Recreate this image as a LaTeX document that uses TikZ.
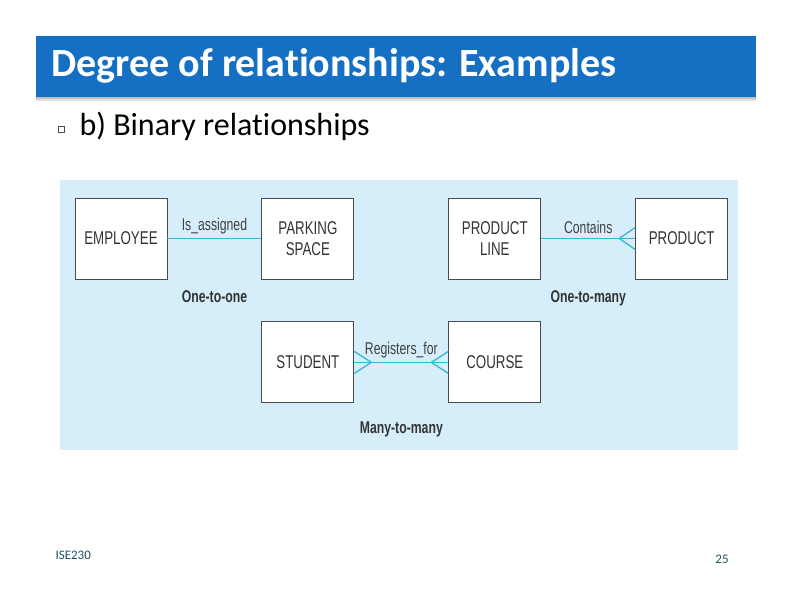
\documentclass[tikz,border=0pt]{standalone}
\usepackage{fontspec}
\setmainfont{Carlito}[Ligatures=NoCommon]
\newfontfamily\erfont[FakeStretch=0.72]{Liberation Sans}
\usetikzlibrary{positioning}

\definecolor{titleblue}{HTML}{1570C4}
\definecolor{panelblue}{HTML}{D6EEFA}
\definecolor{linkcyan}{HTML}{3AB4D2}
\definecolor{boxgray}{HTML}{4A4A4A}
\definecolor{footteal}{HTML}{1F5060}

\begin{document}
\begin{tikzpicture}[x=1pt, y=-1pt, node distance=94pt,
    entity/.style={draw=boxgray, fill=white, line width=0.9pt, minimum width=92pt, minimum height=81pt, inner sep=0pt, align=center, text=black!80, font=\erfont\fontsize{18.5}{21}\selectfont},
    link/.style={draw=linkcyan, line width=1.3pt},
    rel/.style={inner sep=0pt, text=black!75, font=\erfont\fontsize{17}{19}\selectfont},
    degree/.style={inner sep=0pt, text=black!80, font=\erfont\bfseries\fontsize{17}{19}\selectfont}]
        \useasboundingbox (0,0) rectangle (792,612);

        % Title bar
        \fill[black!12] (36,97) rectangle (756,101);
        \fill[black!25] (36,97) rectangle (756,99);
        \fill[titleblue] (36,36) rectangle (756,97);
        \node (title) [anchor=west, text=white, font=\bfseries\fontsize{40}{45}\selectfont] at (48,66) {Degree of relationships: Examples};

        % Bullet
        \node (bullet) [draw=black!70, line width=0.6pt, minimum size=6pt, inner sep=0pt] at (61,129) {};
        \node (subtitle) [anchor=west, font=\fontsize{32}{36}\selectfont] at (76,126) {b) Binary relationships};

        % Panel
        \fill[panelblue] (60,180) rectangle (738,450);

        % Entities
        \node (employee) [entity] at (121,238.5) {EMPLOYEE};
        \node (parking) [entity, right=of employee] {PARKING\\SPACE};
        \node (productline) [entity, right=of parking] {PRODUCT\\LINE};
        \node (product) [entity, right=of productline] {PRODUCT};
        \node (student) [entity, below=42pt of parking] {STUDENT};
        \node (course) [entity, right=of student] {COURSE};

        % One-to-one
        \draw[link] (employee) -- node[rel, above=4pt] (isassigned) {Is\_assigned} (parking);
        \path (employee.south east) -- node[degree, below=11pt] (onetoone) {One-to-one} (parking.south west);

        % One-to-many
        \draw[link] (productline) -- node[rel, above=4pt] (contains) {Contains} (product);
        \draw[link] ([xshift=-16pt]product.west) -- ([yshift=11pt]product.west);
        \draw[link] ([xshift=-16pt]product.west) -- ([yshift=-11pt]product.west);
        \path (productline.south east) -- node[degree, below=11pt] (onetomany) {One-to-many} (product.south west);

        % Many-to-many
        \draw[link] (student) -- node[rel, above=4pt] (registers) {Registers\_for} (course);
        \draw[link] ([xshift=17pt]student.east) -- ([yshift=11pt]student.east);
        \draw[link] ([xshift=17pt]student.east) -- ([yshift=-11pt]student.east);
        \draw[link] ([xshift=-17pt]course.west) -- ([yshift=11pt]course.west);
        \draw[link] ([xshift=-17pt]course.west) -- ([yshift=-11pt]course.west);
        \path (student.south east) -- node[degree, below=18pt] (manytomany) {Many-to-many} (course.south west);

        % Footer
        \node (footer) [anchor=west, text=footteal, font=\fontsize{13}{15}\selectfont] at (52,555) {ISE230};
        \node (pagenum) [text=footteal, font=\fontsize{13}{15}\selectfont] at (722,559) {25};
    \end{tikzpicture}
\end{document}
